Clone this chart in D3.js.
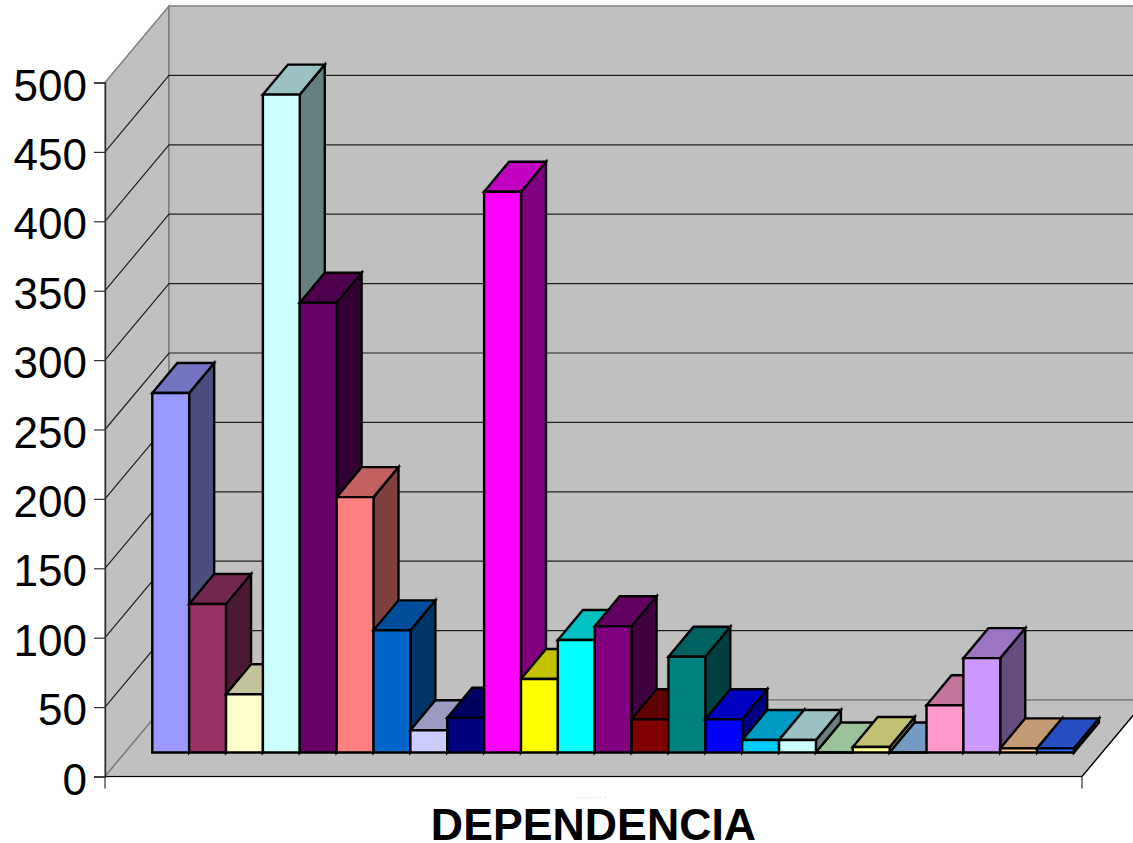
<!DOCTYPE html>
<html>
<head>
<meta charset="utf-8">
<script src="https://cdn.jsdelivr.net/npm/d3@7"></script>
<style>
  html, body { margin: 0; padding: 0; background: #fff; overflow: hidden; }
  text { font-family: "Liberation Sans", Arial, sans-serif; }
</style>
</head>
<body>
<div id="container"></div>
<script>
let categories = ["1","2","3","4","5","6","7","8","9","10","11","12","13","14","15","16","17","18","19","20","21","22","23","24","25"];
let values = [259,107,42,474,324,184,88,16,25,404,53,81,91,24,69,24,9,9,0,4,0,34,68,3,3];
let barColors = ["#9999ff","#993366","#ffffcc","#ccffff","#660066","#ff8080","#0066cc","#ccccff","#000080","#ff00ff","#ffff00","#00ffff","#800080","#800000","#008080","#0000ff","#00ccff","#ccffff","#ccffcc","#ffff99","#99ccff","#ff99cc","#cc99ff","#ffcc99","#3366ff"];
let yTicks = [0,50,100,150,200,250,300,350,400,450,500];
let axisTitle = "DEPENDENCIA";
let tinyLabel = "........";

let width = 1133, height = 843;

// front edge of the box and how far the back wall is shifted
let box = {left: 105, right: 1082, bottom: 776.5, top: 82.5, dx: 64, dy: -76.5};
// bars stand partway into the floor
let bar = {left: 152.3, right: 1074, baseShift: -24, dx: 25, dy: -30};

let svg = d3.select("#container").append("svg")
    .attr("width", width)
    .attr("height", height)
    .style("display", "block");

let yScale = d3.scaleLinear().domain([0, 500]).range([box.bottom, box.top]);
let xScale = d3.scaleBand().domain(categories).range([bar.left, bar.right]);

function poly(points) {
  return "M" + points.map(p => p.join(",")).join("L") + "Z";
}

function shade(color, k) {
  let c = d3.rgb(color);
  return d3.rgb(c.r * k, c.g * k, c.b * k).formatHex();
}

// walls and floor
let walls = svg.append("g").attr("fill", "#c0c0c0").attr("stroke", "#808080").attr("stroke-width", 1.5);
let backLeft = box.left + box.dx, backRight = box.right + box.dx;
let backTop = box.top + box.dy, backBottom = box.bottom + box.dy;

walls.append("path").attr("d", poly([[box.left, box.top], [backLeft, backTop], [backLeft, backBottom], [box.left, box.bottom]]));
walls.append("path").attr("d", poly([[backLeft, backTop], [backRight, backTop], [backRight, backBottom], [backLeft, backBottom]]));
walls.append("path").attr("d", poly([[box.left, box.bottom], [box.right, box.bottom], [backRight, backBottom], [backLeft, backBottom]]));

// gridlines go along the left wall then along the back wall
let grid = svg.append("g").attr("fill", "none").attr("stroke", "#202020").attr("stroke-width", 1.2);
grid.selectAll("path")
    .data(yTicks.slice(1, -1))
    .enter().append("path")
      .attr("d", d => "M" + box.left + "," + yScale(d) + "L" + backLeft + "," + (yScale(d) + box.dy) + "L" + backRight + "," + (yScale(d) + box.dy));

// front and right edges of the floor
svg.append("path")
    .attr("d", "M" + box.left + "," + box.bottom + "L" + box.right + "," + box.bottom + "L" + backRight + "," + backBottom)
    .attr("fill", "none").attr("stroke", "#000").attr("stroke-width", 1.2);

// y axis
let yAxis = d3.axisLeft(yScale).tickValues(yTicks).tickFormat(d3.format("d")).tickSize(11).tickPadding(7);
let yAxisGroup = svg.append("g").attr("class", "yaxis")
    .attr("transform", "translate(" + box.left + ",0)")
    .call(yAxis);
yAxisGroup.select(".domain").attr("stroke", "#303030").attr("stroke-width", 1.4);
yAxisGroup.selectAll(".tick line").attr("stroke", "#303030").attr("stroke-width", 1.2);
yAxisGroup.selectAll("text").attr("fill", "#000").attr("dy", "0.4em").style("font-size", "44px");

// x axis end ticks
svg.append("g").selectAll("line")
    .data([box.left, box.right])
    .enter().append("line")
      .attr("x1", d => d).attr("x2", d => d)
      .attr("y1", box.bottom).attr("y2", box.bottom + 12)
      .attr("stroke", "#303030").attr("stroke-width", 1.2);

// bars, left to right so each one covers the side of the last
let bars = svg.append("g").attr("stroke", "#000").attr("stroke-width", 2.4).attr("stroke-linejoin", "miter");
let groups = bars.selectAll("g")
    .data(categories)
    .enter().append("g");

function corners(d, i) {
  let x0 = xScale(d), x1 = x0 + xScale.bandwidth();
  let yBase = yScale(0) + bar.baseShift;
  let yTop = yScale(values[i]) + bar.baseShift;
  return {x0, x1, yBase, yTop};
}

groups.append("path")
    .attr("fill", (d, i) => shade(barColors[i], 0.5))
    .attr("d", (d, i) => {
      let c = corners(d, i);
      return poly([[c.x1, c.yBase], [c.x1 + bar.dx, c.yBase + bar.dy], [c.x1 + bar.dx, c.yTop + bar.dy], [c.x1, c.yTop]]);
    });
groups.append("path")
    .attr("fill", (d, i) => shade(barColors[i], 0.76))
    .attr("d", (d, i) => {
      let c = corners(d, i);
      return poly([[c.x0, c.yTop], [c.x1, c.yTop], [c.x1 + bar.dx, c.yTop + bar.dy], [c.x0 + bar.dx, c.yTop + bar.dy]]);
    });
groups.append("path")
    .attr("fill", (d, i) => barColors[i])
    .attr("d", (d, i) => {
      let c = corners(d, i);
      return poly([[c.x0, c.yBase], [c.x1, c.yBase], [c.x1, c.yTop], [c.x0, c.yTop]]);
    });

// the category label is squeezed down to a row of dots
svg.append("text")
    .attr("x", 592.5)
    .attr("y", 797.5)
    .attr("text-anchor", "middle")
    .attr("fill", "#333")
    .attr("letter-spacing", "2.4px")
    .style("font-size", "5.5px")
    .text(tinyLabel);

// axis title
svg.append("text")
    .attr("x", 593.5)
    .attr("y", 840)
    .attr("text-anchor", "middle")
    .attr("font-weight", "bold")
    .style("font-size", "44.7px")
    .text(axisTitle);
</script>
</body>
</html>
